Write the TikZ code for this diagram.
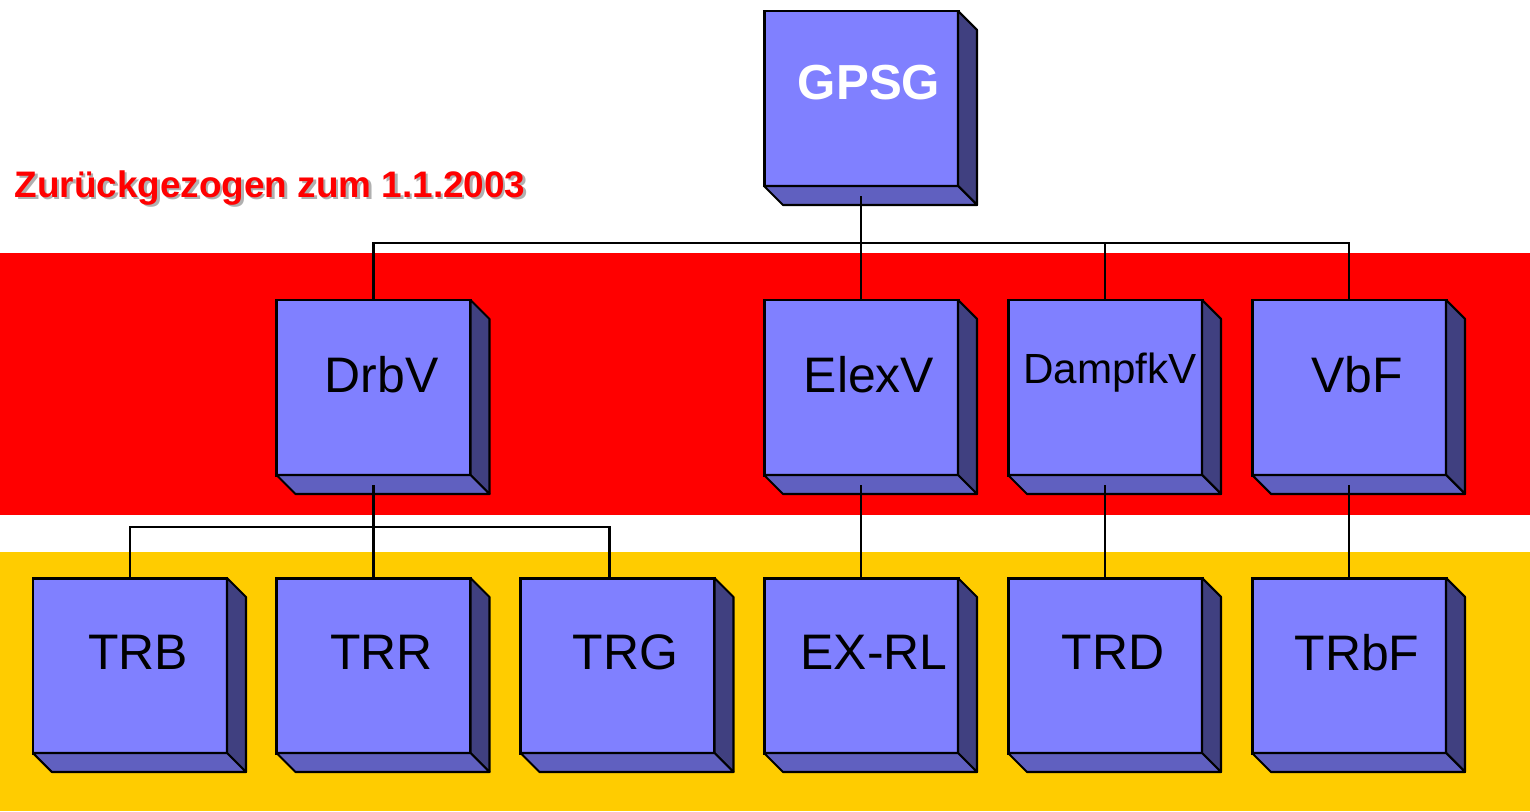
\documentclass[tikz,border=0pt]{standalone}
\usepackage{fontspec}
\setmainfont{Liberation Sans}
\usetikzlibrary{calc}

\definecolor{boxface}{HTML}{8080FF}
\definecolor{boxright}{HTML}{404080}
\definecolor{boxbottom}{HTML}{6060C0}
\definecolor{bandred}{HTML}{FF0000}
\definecolor{bandyellow}{HTML}{FFCC00}
\definecolor{shadowgray}{HTML}{B0B0B0}

\tikzset{
	blk/.style={draw=black, line width=0.85pt, fill=boxface, outer sep=0pt,
		minimum width=1.94cm, minimum height=1.75cm, inner sep=0pt,
		text depth=0.27cm, execute at begin node={\hspace*{0.16cm}},
		font=\fontsize{14.2}{17}\selectfont},
	rside/.style={fill=boxright, draw=black, line width=0.6pt, line join=round},
	bside/.style={fill=boxbottom, draw=black, line width=0.6pt, line join=round},
	link/.style={draw=black, line width=0.6pt}
}

\begin{document}
\begin{tikzpicture}
					\useasboundingbox (0,0) rectangle (15.3,-8.11);
					
					% bands
					\fill[bandred] (0,-2.53) rectangle (15.3,-5.15);
					\fill[bandyellow] (0,-5.52) rectangle (15.3,-8.11);
					
					\coordinate (topbus) at (0,-2.43);
					\coordinate (drbvbus) at (0,-5.27);
					
					% boxes
					\node[blk, font=\bfseries\fontsize{14}{17}\selectfont, text=white, text depth=0.32cm] (gpsg) at (8.61,-0.985) {GPSG};
					
					\node[blk] (drbv) at (3.735,-3.875) {DrbV};
					\node[blk] (elexv) at (8.61,-3.875) {ElexV};
					\node[blk, font=\fontsize{12}{14}\selectfont, text depth=0.38cm, execute at begin node={\hspace*{-0.06cm}}] (dampfkv) at (11.05,-3.875) {DampfkV};
					\node[blk] (vbf) at (13.49,-3.875) {VbF};
					
					\node[blk] (trb) at (1.30,-6.655) {TRB};
					\node[blk] (trr) at (3.735,-6.655) {TRR};
					\node[blk] (trg) at (6.175,-6.655) {TRG};
					\node[blk, execute at begin node={\hspace*{0.1cm}}] (exrl) at (8.61,-6.655) {EX-RL};
					\node[blk] (trd) at (11.05,-6.655) {TRD};
					\node[blk] (trbf) at (13.49,-6.655) {TRbF};
					
					% side faces
					\foreach \n in {gpsg,drbv,elexv,dampfkv,vbf,trb,trr,trg,exrl,trd,trbf} {
						\filldraw[rside] (\n.north east) -- ++(0.19,-0.19) -- ($(\n.south east)+(0.19,-0.19)$) -- (\n.south east) -- cycle;
						\filldraw[bside] (\n.south west) -- ++(0.19,-0.19) -- ($(\n.south east)+(0.19,-0.19)$) -- (\n.south east) -- cycle;
					}
					
					% connectors
					\draw[link] ([yshift=-1mm]gpsg.south) -- (elexv.north);
					\draw[link] (drbv.north) |- (gpsg.south |- topbus);
					\draw[link] (dampfkv.north) |- (gpsg.south |- topbus);
					\draw[link] (vbf.north) |- (gpsg.south |- topbus);
					
					\draw[link] ([yshift=-1mm]drbv.south) -- (trr.north);
					\draw[link] (trb.north) |- (drbv.south |- drbvbus);
					\draw[link] ([xshift=-0.08cm]trg.north) |- (drbv.south |- drbvbus);
					
					\draw[link] ([yshift=-1mm]elexv.south) -- (exrl.north);
					\draw[link] ([yshift=-1mm]dampfkv.south) -- (trd.north);
					\draw[link] ([yshift=-1mm]vbf.south) -- (trbf.north);
					
					% note
					\node[anchor=base west, inner sep=0pt, text=bandred, font=\bfseries\fontsize{10.5}{12}\selectfont] (note) at (0.14,-1.97)
						{\rlap{\kern0.7pt\raisebox{-0.7pt}{\color{shadowgray}Zurückgezogen zum 1.1.2003}}Zurückgezogen zum 1.1.2003};
				\end{tikzpicture}
\end{document}
